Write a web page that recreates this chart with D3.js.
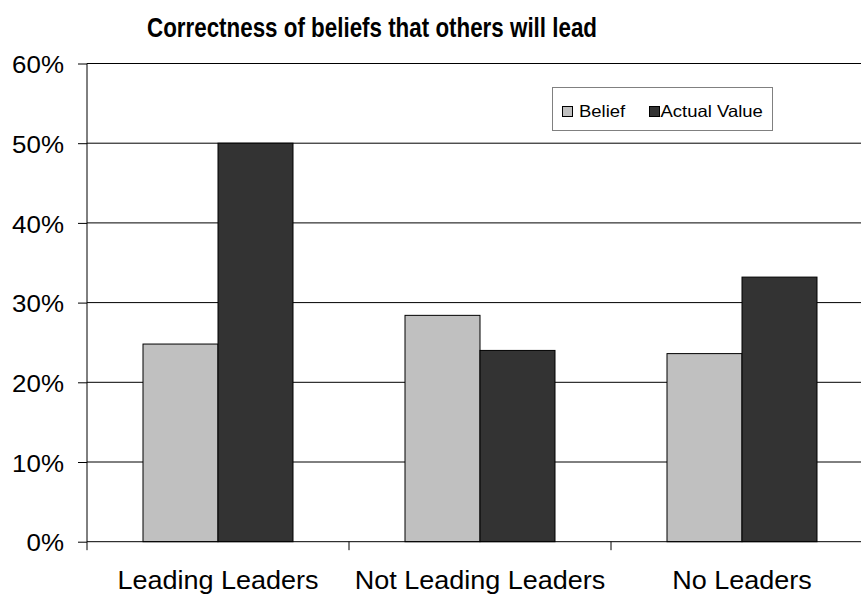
<!DOCTYPE html>
<html>
<head>
<meta charset="utf-8">
<script src="https://cdn.jsdelivr.net/npm/d3@7"></script>
<style>
  html, body { margin: 0; padding: 0; background: #fff; }
  svg { display: block; font-family: "Liberation Sans", Arial, Helvetica, sans-serif; }
</style>
</head>
<body>
<svg id="chart" width="861" height="599"></svg>
<script>
// Chart data
const categories = ["Leading Leaders", "Not Leading Leaders", "No Leaders"];
const seriesNames = ["Belief", "Actual Value"];
const beliefValues = [0.248, 0.284, 0.236];
const actualValues = [0.500, 0.240, 0.332];
const yTickValues = [0, 0.1, 0.2, 0.3, 0.4, 0.5, 0.6];
const seriesColors = ["#c0c0c0", "#333333"];
const titleText = "Correctness of beliefs that others will lead";

const seriesValues = [beliefValues, actualValues];
const rows = categories.map((c, i) => ({
  category: c,
  values: seriesNames.map((s, j) => ({ series: s, value: seriesValues[j][i], color: seriesColors[j] }))
}));

const svg = d3.select("#chart");

// Text in this chart is set slightly wide
const STRETCH = 1.08;
function widen(sel, factor) {
  sel.each(function () {
    const w = this.getComputedTextLength();
    d3.select(this).attr("textLength", w * factor).attr("lengthAdjust", "spacingAndGlyphs");
  });
}

// Plot geometry (the category band runs past the right edge of the canvas)
const plot = { left: 87, right: 873, top: 63.5, bottom: 541.7 };

const y = d3.scaleLinear().domain([0, 0.6]).range([plot.bottom, plot.top]);
const x0 = d3.scaleBand().domain(categories).range([plot.left, plot.right])
  .paddingInner(0.4275).paddingOuter(0.4275 / 2);
const x1 = d3.scaleBand().domain(seriesNames).range([0, x0.bandwidth()]);

// Title
svg.append("text")
  .attr("x", 372).attr("y", 37)
  .attr("text-anchor", "middle")
  .attr("font-size", 27).attr("font-weight", "bold")
  .attr("textLength", 450).attr("lengthAdjust", "spacingAndGlyphs")
  .text(titleText);

// Horizontal gridlines
svg.append("g")
  .selectAll("line")
  .data(yTickValues.filter(d => d > 0))
  .join("line")
  .attr("x1", plot.left).attr("x2", 861)
  .attr("y1", d => y(d)).attr("y2", d => y(d))
  .attr("stroke", "#000").attr("stroke-width", 1);

// Bars
const groups = svg.append("g")
  .selectAll("g")
  .data(rows)
  .join("g")
  .attr("transform", d => `translate(${x0(d.category)},0)`);

groups.selectAll("rect")
  .data(d => d.values)
  .join("rect")
  .attr("x", d => x1(d.series))
  .attr("width", x1.bandwidth())
  .attr("y", d => y(d.value))
  .attr("height", d => y(0) - y(d.value))
  .attr("fill", d => d.color)
  .attr("stroke", "#000").attr("stroke-width", 1);

// Y axis
const yAxis = d3.axisLeft(y)
  .tickValues(yTickValues)
  .tickFormat(d3.format(".0%"))
  .tickSize(9).tickPadding(14);
const gy = svg.append("g")
  .attr("transform", `translate(${plot.left},0)`)
  .call(yAxis);
gy.select(".domain").attr("d", `M0,${plot.top}V${plot.bottom + 8.5}`).attr("stroke", "#000");
gy.selectAll(".tick line").attr("stroke", "#000");
gy.selectAll(".tick text")
  .attr("font-size", 24).attr("fill", "#000")
  .attr("dy", "0.38em")
  .attr("font-family", "'Liberation Sans', Arial, sans-serif")
  .call(widen, STRETCH);

// X axis: ticks sit at the boundaries between categories
const boundaries = categories.map((c, i) => plot.left + i * x0.step()).concat([plot.right]);
const gx = svg.append("g");
gx.append("line")
  .attr("x1", plot.left).attr("x2", 861)
  .attr("y1", y(0)).attr("y2", y(0))
  .attr("stroke", "#000");
gx.selectAll("line.tick")
  .data(boundaries.slice(1))
  .join("line")
  .attr("class", "tick")
  .attr("x1", d => d).attr("x2", d => d)
  .attr("y1", y(0)).attr("y2", y(0) + 8.5)
  .attr("stroke", "#000");
gx.selectAll("text")
  .data(categories)
  .join("text")
  .attr("x", d => x0(d) + x0.bandwidth() / 2)
  .attr("y", 589)
  .attr("text-anchor", "middle")
  .attr("font-size", 25)
  .text(d => d)
  .call(widen, STRETCH);

// Legend
const legend = svg.append("g");
legend.append("rect")
  .attr("x", 552.5).attr("y", 87.5).attr("width", 220).attr("height", 43)
  .attr("fill", "#fff").attr("stroke", "#808080").attr("stroke-width", 1);
const legendItems = [
  { name: seriesNames[0], color: seriesColors[0], x: 562.5, tx: 579 },
  { name: seriesNames[1], color: seriesColors[1], x: 649.5, tx: 660.5 }
];
const items = legend.selectAll("g.item")
  .data(legendItems)
  .join("g").attr("class", "item");
items.append("rect")
  .attr("x", d => d.x).attr("y", 106.5).attr("width", 10).attr("height", 10)
  .attr("fill", d => d.color).attr("stroke", "#000").attr("stroke-width", 1);
items.append("text")
  .attr("x", d => d.tx).attr("y", 117)
  .attr("font-size", 16.5)
  .text(d => d.name)
  .call(widen, 1.12);
</script>
</body>
</html>
